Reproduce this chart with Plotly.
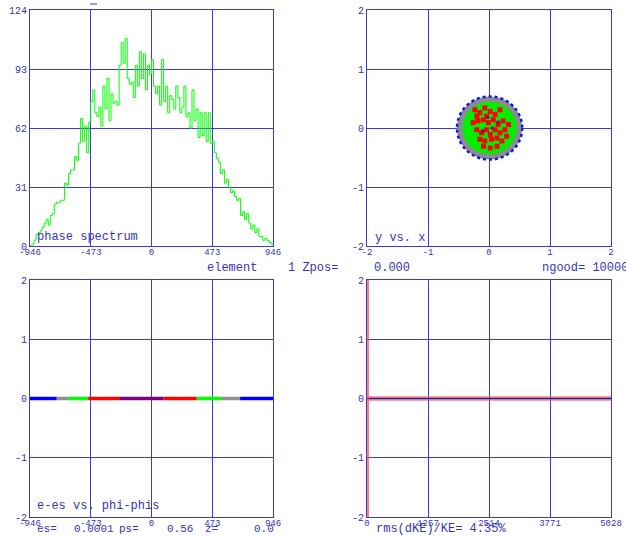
import numpy as np
import plotly.graph_objects as go

# ---------------- data ----------------
hist_range = [-946, 946]
hist_counts = [0, 1, 3, 6, 7, 8, 10, 12, 14, 11, 16, 17, 22, 23, 23, 24, 24, 33, 32, 38,
               40, 40, 47, 45, 54, 67, 55, 63, 49, 65, 76, 82, 70, 68, 73, 63, 84, 72, 88, 66,
               80, 75, 76, 74, 95, 107, 96, 109, 88, 85, 86, 78, 95, 84, 102, 88, 101, 82, 95, 90,
               98, 84, 80, 84, 74, 98, 76, 84, 70, 79, 77, 72, 84, 78, 70, 73, 84, 68, 70, 62,
               82, 66, 72, 57, 70, 58, 70, 55, 70, 54, 55, 49, 46, 44, 38, 40, 33, 35, 31, 28,
               29, 26, 24, 25, 16, 18, 14, 17, 12, 9, 11, 7, 9, 5, 5, 3, 4, 3, 2, 1]
hist_ticks = [-946, -473, 0, 473, 946]
count_ticks = [0, 31, 62, 93, 124]

xy_ticks = [-2, -1, 0, 1, 2]
disc_center = [0.01, 0.0]
disc_radii = [0.535, 0.505, 0.445]
disc_colors = ["#8c8c8c", "#8c8c8c", "#00ee00"]
disc_edge_color = "#1010ff"
core_red_x = [-0.23, -0.15, -0.07, 0.02, 0.10, 0.18, -0.26, -0.18, -0.09, -0.01, 0.07, 0.15,
              0.23, -0.20, -0.12, -0.04, 0.02, 0.10, 0.18, 0.26, -0.15, -0.07, 0.04, 0.13,
              0.21, -0.09, 0.02, 0.13, -0.20, 0.29, -0.04, 0.32]
core_red_y = [0.31, 0.26, 0.34, 0.28, 0.23, 0.31, 0.09, 0.12, 0.14, 0.09, 0.14, 0.06,
              0.12, -0.03, -0.08, -0.03, -0.11, -0.03, -0.08, -0.03, -0.19, -0.22, -0.19, -0.17,
              -0.22, -0.31, -0.34, -0.31, 0.20, -0.14, 0.20, 0.06]
core_purple_x = [0.05, -0.10, 0.15, -0.02]
core_purple_y = [0.0, -0.05, 0.10, 0.18]

phase_seg_edges = [-946, -738, -648, -492, -245, 92, 352, 547, 690, 946]
phase_seg_colors = ["#0000ff", "#909090", "#00ff00", "#ff0000", "#800080",
                    "#ff0000", "#00ff00", "#909090", "#0000ff"]

ke_range = [0, 5028]
ke_ticks = [0, 1257, 2514, 3771, 5028]

# ---------------- figure ----------------
W, H = 626, 539
BLUE = "#3a3ad8"
TXT = "#3636b4"
FONT = "Liberation Mono"

def px_x(p):
    return p / W

def px_y(p):
    return 1 - p / H

dom_x_left = [px_x(30), px_x(273)]
dom_x_right = [px_x(367), px_x(611)]
dom_y_top = [px_y(246), px_y(10)]
dom_y_bot = [px_y(517), px_y(280)]

fig = go.Figure()

# top-left histogram (step outline)
edges = np.linspace(hist_range[0], hist_range[1], len(hist_counts) + 1)
fig.add_trace(go.Scatter(x=edges, y=hist_counts + [hist_counts[-1]], mode="lines",
                         line=dict(color="#00ff00", width=1, shape="hv"),
                         xaxis="x", yaxis="y", showlegend=False))

# top-right disc
shapes = []
for i, (r, c) in enumerate(zip(disc_radii, disc_colors)):
    line = dict(width=2.5, color=disc_edge_color, dash="dot") if i == 0 else dict(width=0)
    shapes.append(dict(type="circle", xref="x2", yref="y2",
                       x0=disc_center[0] - r, x1=disc_center[0] + r,
                       y0=disc_center[1] - r, y1=disc_center[1] + r,
                       fillcolor=c, line=line, layer="between"))
# small overflow mark above the histogram
shapes.append(dict(type="line", xref="paper", yref="paper",
                   x0=px_x(90), x1=px_x(97), y0=px_y(4), y1=px_y(4),
                   line=dict(color=BLUE, width=1)))
fig.add_trace(go.Scatter(x=core_red_x, y=core_red_y, mode="markers",
                         marker=dict(symbol="square", size=5, color="#ff0000", line=dict(width=0)),
                         xaxis="x2", yaxis="y2", showlegend=False))
fig.add_trace(go.Scatter(x=core_purple_x, y=core_purple_y, mode="markers",
                         marker=dict(symbol="square", size=3, color="#800080", line=dict(width=0)),
                         xaxis="x2", yaxis="y2", showlegend=False))

# bottom-left phase line segments
for i, c in enumerate(phase_seg_colors):
    fig.add_trace(go.Scatter(x=[phase_seg_edges[i], phase_seg_edges[i + 1]], y=[0, 0],
                             mode="lines", line=dict(color=c, width=3.5),
                             xaxis="x3", yaxis="y3", showlegend=False))

# bottom-right
fig.add_trace(go.Scatter(x=ke_range, y=[0, 0], mode="lines",
                         line=dict(color="rgba(255,80,80,0.55)", width=5),
                         xaxis="x4", yaxis="y4", showlegend=False))
fig.add_trace(go.Scatter(x=ke_range, y=[0, 0], mode="lines",
                         line=dict(color="#2020a0", width=1.5),
                         xaxis="x4", yaxis="y4", showlegend=False))
fig.add_trace(go.Scatter(x=[ke_range[0], ke_range[0]], y=[-2, 2], mode="lines",
                         line=dict(color="rgba(255,80,80,0.75)", width=4),
                         xaxis="x4", yaxis="y4", showlegend=False))

def ax(domain, rng, ticks, anchor, size=9, standoff=0):
    return dict(domain=domain, range=rng, tickvals=ticks, ticktext=[str(t) for t in ticks],
                showgrid=True, gridcolor=BLUE, gridwidth=1, zeroline=False,
                showline=True, linecolor=BLUE, linewidth=1, mirror=True,
                ticks="", tickfont=dict(family=FONT, size=size, color=TXT),
                anchor=anchor, fixedrange=True, ticklabelstandoff=standoff, automargin=False)

fig.update_layout(
    width=W, height=H, margin=dict(l=0, r=0, t=0, b=0),
    paper_bgcolor="white", plot_bgcolor="white",
    xaxis=ax(dom_x_left, hist_range, hist_ticks, "y", standoff=-3),
    yaxis=ax(dom_y_top, [0, 124], count_ticks, "x", 10),
    xaxis2=ax(dom_x_right, [-2, 2], xy_ticks, "y2", standoff=-3),
    yaxis2=ax(dom_y_top, [-2, 2], xy_ticks, "x2", 10),
    xaxis3=ax(dom_x_left, hist_range, hist_ticks, "y3", standoff=-3),
    yaxis3=ax(dom_y_bot, [-2, 2], xy_ticks, "x3", 10),
    xaxis4=ax(dom_x_right, ke_range, ke_ticks, "y4", standoff=-3),
    yaxis4=ax(dom_y_bot, [-2, 2], xy_ticks, "x4", 10),
    shapes=shapes,
)

def note(text, x, y, size=12):
    fig.add_annotation(text=text, x=px_x(x), y=px_y(y), xref="paper", yref="paper",
                       xanchor="left", yanchor="middle", showarrow=False,
                       font=dict(family=FONT, size=size, color=TXT))

note("phase spectrum", 35, 237)
note("y vs. x", 373, 238)
note("element", 205, 268)
note("1 Zpos=", 286, 268)
note("0.000", 372, 268)
note("ngood= 10000", 540, 268)
note("e-es vs. phi-phis", 35, 506)
note("es=", 35, 529, 11)
note("0.0001", 72, 529, 11)
note("ps=", 117, 529, 11)
note("0.56", 165, 529, 11)
note("z=", 203, 529, 11)
note("0.0", 252, 529, 11)
note("rms(dKE)/KE= 4.35%", 374, 529)

fig.write_html("out.html", config={"displayModeBar": False},
               post_script="document.body.style.margin='0';document.body.style.overflow='hidden';")
